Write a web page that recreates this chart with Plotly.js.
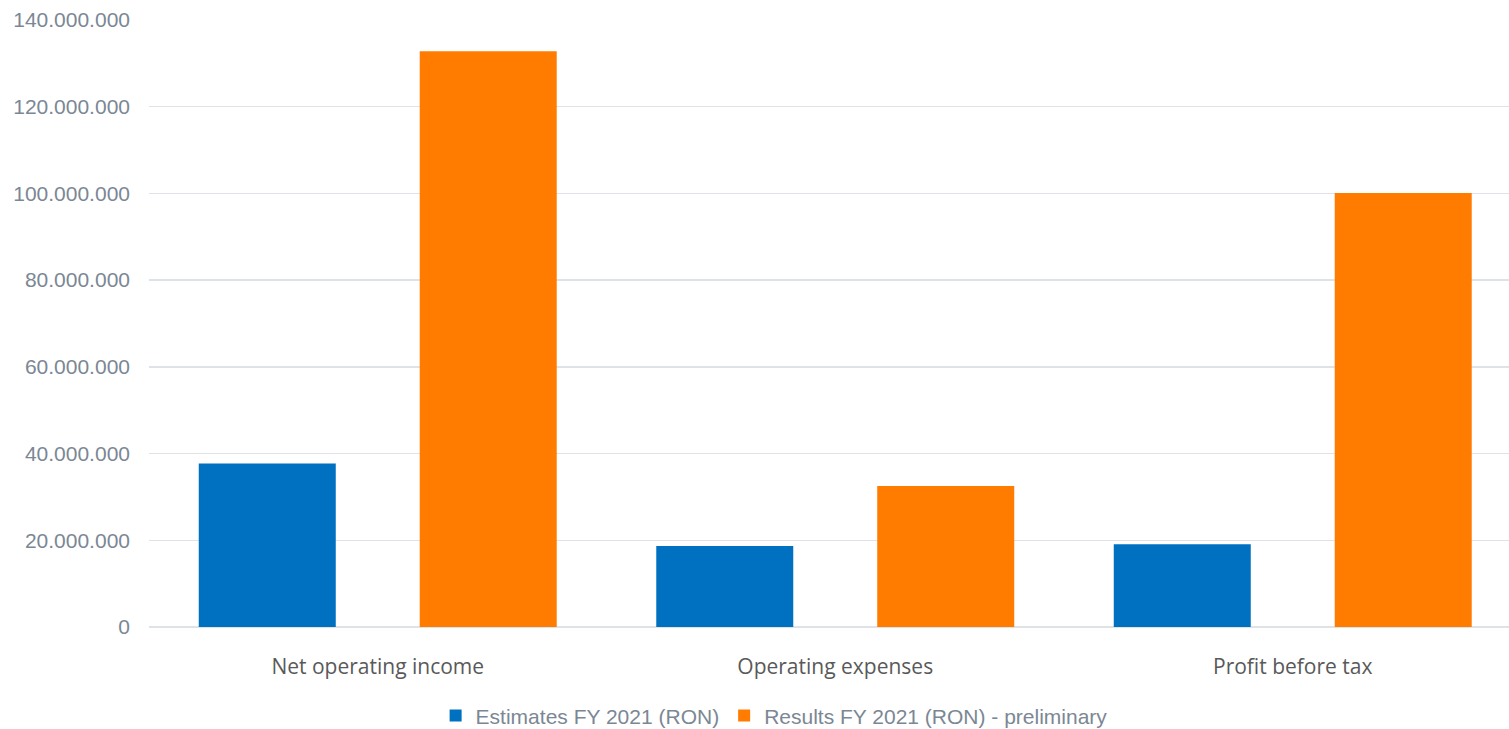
<!DOCTYPE html>
<html>
<head>
<meta charset="utf-8">
<script src="https://cdn.plot.ly/plotly-3.0.1.min.js"></script>
<style>html,body{margin:0;padding:0;background:#fff;}#chart{width:1509px;height:729px;}</style>
</head>
<body>
<div id="chart"></div>
<script>
const categories = ["Net operating income", "Operating expenses", "Profit before tax"];
const seriesNames = ["Estimates FY 2021 (RON)", "Results FY 2021 (RON) - preliminary"];
const estimates = [37700000, 18700000, 19100000];
const results = [132800000, 32500000, 100100000];
const yTicks = [0, 20000000, 40000000, 60000000, 80000000, 100000000, 120000000, 140000000];

const traces = [
  {type: 'bar', name: seriesNames[0], x: categories, y: estimates, marker: {color: '#0070C0'}},
  {type: 'bar', name: seriesNames[1], x: categories, y: results, marker: {color: '#FF7C00'}}
];

const layout = {
  width: 1509, height: 729,
  margin: {l: 149, r: 0, t: 20, b: 102, autoexpand: false},
  paper_bgcolor: '#fff', plot_bgcolor: '#fff',
  separators: ',.',
  barmode: 'group', bargap: 0.034, bargroupgap: 0.38,
  showlegend: true,
  legend: {orientation: 'h', xref: 'container', yref: 'container', x: 0.513, xanchor: 'center', y: 0.018, yanchor: 'middle',
           font: {family: 'Liberation Sans, Arial', size: 21, color: '#7b8794'}, traceorder: 'normal'},
  xaxis: {range: [-0.5, 2.4727], showgrid: false, zeroline: false, showline: false, ticks: '',
          ticklabelstandoff: 25,
          tickfont: {family: 'Open Sans', size: 21, color: '#595959'}},
  yaxis: {range: [0, 140000000], tickvals: yTicks, tickformat: ',d', showgrid: true,
          gridcolor: '#dfe3e8', gridwidth: 1.5, zeroline: true, zerolinecolor: '#dfe3e8', zerolinewidth: 1.5,
          showline: false, ticks: '', ticklabelstandoff: 18,
          tickfont: {family: 'Liberation Sans, Arial', size: 21, color: '#7b8794'}}
};

Plotly.newPlot('chart', traces, layout, {displayModeBar: false, staticPlot: true});
</script>
</body>
</html>
